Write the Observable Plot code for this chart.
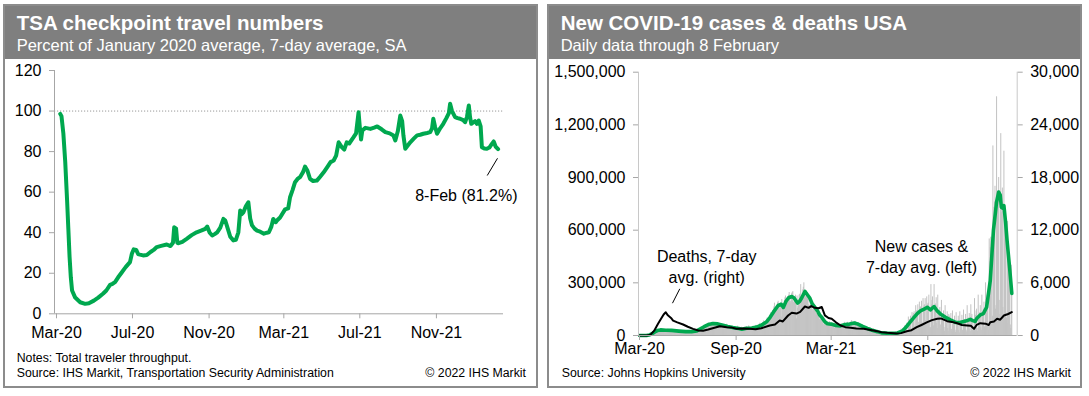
<!DOCTYPE html>
<html><head><meta charset="utf-8">
<script src="https://cdn.jsdelivr.net/npm/d3@7"></script>
<script src="https://cdn.jsdelivr.net/npm/@observablehq/plot@0.6"></script>
<style>
body{margin:0;width:1089px;height:396px;position:relative;background:#fff;font-family:"Liberation Sans",Arial,sans-serif;overflow:hidden}
.panel{position:absolute;top:4px;width:535px;height:384px;border:2px solid #8c8c8c;box-sizing:border-box}
.hdr{position:absolute;left:0;top:0;right:0;height:53px;background:#7f7f7f}
.title{position:absolute;left:11.7px;top:7.3px;font-size:20.5px;font-weight:bold;color:#fff;line-height:20.5px;white-space:nowrap}
.sub{position:absolute;left:11.7px;top:30.5px;font-size:16.5px;color:#fff;line-height:16.5px;white-space:nowrap}
.foot{position:absolute;font-size:12.3px;line-height:14px;color:#000;white-space:nowrap}
.chart{position:absolute}
</style></head>
<body>
<div class="panel" style="left:3px"><div class="hdr"><div class="title">TSA checkpoint travel numbers</div><div class="sub">Percent of January 2020 average, 7-day average, SA</div></div></div>
<div class="panel" style="left:547px"><div class="hdr"><div class="title">New COVID-19 cases &amp; deaths USA</div><div class="sub">Daily data through 8 February</div></div></div>
<div id="left" class="chart" style="left:0;top:60px"></div>
<div id="right" class="chart" style="left:545px;top:60px"></div>
<div class="foot" style="left:16.7px;top:350.5px">Notes: Total traveler throughput.</div>
<div class="foot" style="left:16.7px;top:365.5px">Source: IHS Markit, Transportation Security Administration</div>
<div class="foot" style="right:563px;top:365.5px">© 2022 IHS Markit</div>
<div class="foot" style="left:561.7px;top:365.5px">Source: Johns Hopkins University</div>
<div class="foot" style="right:18px;top:365.5px">© 2022 IHS Markit</div>
<script>
// ---------- LEFT: TSA checkpoint travel numbers (% of Jan 2020 avg, 7-day avg, SA)
const tsaSeries = [
["2020-03-07",98.6],["2020-03-09",97.5],["2020-03-12",89],["2020-03-15",75],["2020-03-18",56],["2020-03-20",42],
["2020-03-22",28],["2020-03-24",18],["2020-03-26",11.5],["2020-03-31",8],["2020-04-08",5.7],["2020-04-16",4.9],
["2020-04-22",5.2],["2020-04-30",6.5],["2020-05-07",8],["2020-05-15",10],["2020-05-20",11.5],["2020-05-26",14.3],
["2020-05-30",14.8],["2020-06-03",15.6],["2020-06-08",18],["2020-06-14",20.5],["2020-06-20",23],["2020-06-27",25.5],
["2020-06-30",29.6],["2020-07-03",31.8],["2020-07-07",31.5],["2020-07-10",29.5],["2020-07-13",29.2],["2020-07-18",28.8],
["2020-07-24",29],["2020-07-30",30.5],["2020-08-04",31.5],["2020-08-09",32.9],["2020-08-16",33.5],["2020-08-25",34.2],
["2020-08-31",33.4],["2020-09-04",35],["2020-09-06",42.7],["2020-09-09",42],["2020-09-11",35],["2020-09-13",34.8],
["2020-09-19",35.5],["2020-09-26",37],["2020-10-04",38.8],["2020-10-12",40.2],["2020-10-19",41],["2020-10-26",41.9],
["2020-10-29",43],["2020-11-02",40],["2020-11-06",38.6],["2020-11-10",39.3],["2020-11-14",40.2],["2020-11-19",42.5],
["2020-11-24",46.8],["2020-11-27",46],["2020-12-01",42],["2020-12-05",38],["2020-12-10",36.2],["2020-12-14",36.5],
["2020-12-18",40.2],["2020-12-21",51],["2020-12-23",49],["2020-12-26",50],["2020-12-30",53],["2021-01-03",55],
["2021-01-06",47],["2021-01-09",43.6],["2021-01-13",42],["2021-01-17",41],["2021-01-22",40.5],["2021-01-28",39.5],
["2021-02-02",40],["2021-02-05",40.2],["2021-02-09",43],["2021-02-12",46.8],["2021-02-16",45.2],["2021-02-18",46],
["2021-02-23",47.5],["2021-03-03",51.5],["2021-03-08",52],["2021-03-11",57.5],["2021-03-15",61],["2021-03-19",64.9],
["2021-03-23",66.5],["2021-03-27",67.4],["2021-04-01",70],["2021-04-04",72.6],["2021-04-08",70.5],["2021-04-12",66.6],
["2021-04-17",65.5],["2021-04-23",65.7],["2021-04-28",67.5],["2021-05-04",69.8],["2021-05-10",72.5],["2021-05-15",74.8],
["2021-05-20",75.6],["2021-05-24",78],["2021-05-28",84.6],["2021-06-02",82.2],["2021-06-06",81],["2021-06-10",84.6],
["2021-06-14",84],["2021-06-21",87.1],["2021-06-25",89],["2021-06-29",99.4],["2021-07-01",92],["2021-07-03",86],
["2021-07-05",90.4],["2021-07-10",91.7],["2021-07-18",91.2],["2021-07-24",91.8],["2021-07-29",92.4],["2021-08-05",91],
["2021-08-11",89.6],["2021-08-18",89],["2021-08-24",87.9],["2021-08-27",85.5],["2021-08-31",90],["2021-09-04",97.8],
["2021-09-07",95],["2021-09-09",88],["2021-09-12",81.4],["2021-09-16",83],["2021-09-20",84.6],["2021-09-26",86.5],
["2021-10-01",88],["2021-10-06",88.3],["2021-10-11",88.8],["2021-10-17",89.2],["2021-10-22",89.6],["2021-10-25",91.5],
["2021-10-27",96.2],["2021-10-30",92],["2021-11-02",88.8],["2021-11-07",91.5],["2021-11-12",93.7],["2021-11-17",96.5],
["2021-11-21",99],["2021-11-23",103.6],["2021-11-26",100],["2021-12-01",97],["2021-12-05",96.5],["2021-12-09",96.2],
["2021-12-14",95.5],["2021-12-17",94.5],["2021-12-20",97],["2021-12-23",102.7],["2021-12-25",97],["2021-12-27",93.7],
["2022-01-02",95],["2022-01-05",93.7],["2022-01-08",95.3],["2022-01-11",92.5],["2022-01-13",82.2],["2022-01-17",81.5],
["2022-01-21",81.4],["2022-01-25",82],["2022-01-29",83.8],["2022-02-01",85],["2022-02-04",82.5],["2022-02-08",81.2]
];
const tsaYTicks = [0,20,40,60,80,100,120];
const tsaXTicks = ["2020-03-01","2020-07-01","2020-11-01","2021-03-01","2021-07-01","2021-11-01"];
const tsaReference = [100];
const tsaNote = [{date:"2021-12-19", value:58.3}];
const tsaLeader = [{d1:"2022-01-21T14:00Z", v1:68.2, d2:"2022-02-07T02:00Z", v2:76.7}];

// ---------- RIGHT: COVID-19 cases (thousands, daily from 1 Mar 2020) and deaths
const dailyStart = "2020-03-01";
const dailyCasesK = [
0,0,0,0,0.1,0.1,0.1,
0.1,0.2,0.2,0.3,0.4,0.6,0.7,
0.8,1.2,1.6,2.6,4.5,5.5,7,
8,10,10,12,17,19,19,
19,21,26,26,29,32,34,
26,29,30,31,32,34,30,
27,25,26,30,30,33,30,
27,26,27,28,34,36,33,
26,23,25,27,29,33,29,
25,23,23,25,28,28,26,
20,18,22,21,27,25,24,
19,21,20,23,25,24,22,
19,17,19,19,22,24,24,
20,19,20,20,22,24,22,
18,17,19,21,23,25,25,
19,19,23,26,28,32,32,
26,31,35,37,39,45,43,
40,40,44,51,56,55,44,
44,50,60,62,61,70,62,
59,60,63,67,75,73,64,
62,61,64,70,72,74,66,
55,57,63,72,68,69,58,
47,47,54,53,58,63,55,
47,49,53,54,52,64,53,
41,37,45,46,49,49,45,
35,37,38,44,45,48,44,
33,32,40,40,46,53,42,
31,23,30,34,37,47,40,
33,34,38,40,45,49,42,
37,50,39,41,45,55,47,
35,34,42,40,47,52,48,
36,37,43,49,56,58,54,
45,41,50,59,64,70,56,
48,58,60,63,74,83,78,
60,66,74,79,90,99,82,
75,84,93,103,120,130,125,
105,118,138,143,163,184,160,
135,158,161,170,187,195,170,
145,172,175,185,105,205,150,
140,160,180,200,215,225,213,
175,190,210,220,230,245,215,
185,195,205,240,245,250,190,
185,200,195,230,195,95,225,
155,165,200,230,235,150,290,
210,220,240,260,275,300,255,
210,220,230,235,240,245,210,
175,145,170,190,195,195,175,
140,150,150,160,165,170,145,
115,125,120,120,125,135,110,
90,90,95,100,110,100,85,
65,55,65,70,75,80,65,
55,55,70,70,78,78,60,
50,55,58,65,68,67,55,
40,45,55,60,60,60,55,
38,50,53,58,62,64,55,
45,52,55,60,66,75,60,
45,60,65,70,75,70,60,
35,60,70,72,80,85,75,
50,70,70,75,80,80,65,
45,65,62,70,70,68,58,
35,50,55,57,60,58,48,
30,45,45,50,52,52,42,
25,35,35,40,45,45,38,
20,25,30,33,35,37,30,
15,20,25,25,28,30,20,
10,8,17,20,18,20,15,
8,15,15,17,16,20,12,
7,13,13,14,16,15,10,
6,11,13,14,13,16,10,
5,12,14,15,18,20,10,
4,8,23,22,23,28,12,
8,36,30,30,34,40,15,
12,55,45,55,58,70,25,
20,105,75,90,90,110,40,
25,130,110,115,125,135,50,
40,170,130,140,140,175,75,
50,190,150,160,165,195,75,
55,210,160,170,175,210,85,
60,220,170,180,185,230,80,
40,45,290,175,200,220,85,
55,290,165,175,180,215,70,
40,230,130,125,130,160,60,
35,200,110,115,115,140,45,
25,170,100,100,105,135,40,
25,120,110,90,90,125,35,
20,140,75,80,85,110,30,
18,130,75,80,80,110,30,
15,135,75,85,85,115,30,
20,145,80,90,90,120,30,
20,170,85,95,100,125,35,
22,175,105,120,30,90,30,
15,210,90,115,140,150,40,
25,230,120,125,130,170,45,
30,230,130,140,150,190,50,
40,300,190,200,230,180,30,
60,550,420,500,560,440,65,
110,1080,590,730,760,850,150,
170,1360,700,790,800,900,200,
120,720,1150,700,760,840,160,
100,1050,650,620,580,600,100,
70,650,420,380,350,380,60,
40,400,240
];
const casesAvgK = [
["2020-03-01",0],["2020-03-14",0.4],["2020-03-20",3],["2020-03-25",10],["2020-03-30",20],["2020-04-04",28],
["2020-04-10",32],["2020-04-20",30],["2020-05-01",29],["2020-05-15",25],["2020-05-28",22],["2020-06-08",22],
["2020-06-18",26],["2020-06-25",38],["2020-07-02",50],["2020-07-10",62],["2020-07-19",68],["2020-07-28",66],
["2020-08-07",58],["2020-08-16",51],["2020-08-26",45],["2020-09-06",40],["2020-09-12",36],["2020-09-21",41],
["2020-10-01",43],["2020-10-10",48],["2020-10-20",60],["2020-10-29",78],["2020-11-05",105],["2020-11-11",133],
["2020-11-20",171],["2020-11-26",178],["2020-11-30",160],["2020-12-05",195],["2020-12-10",215],["2020-12-16",222],
["2020-12-20",215],["2020-12-27",185],["2020-12-31",195],["2021-01-04",215],["2021-01-10",251],["2021-01-14",235],
["2021-01-19",215],["2021-01-24",180],["2021-01-29",160],["2021-02-03",140],["2021-02-07",118],["2021-02-12",100],
["2021-02-17",78],["2021-02-22",67],["2021-03-01",65],["2021-03-10",57],["2021-03-19",55],["2021-03-28",62],
["2021-04-05",65],["2021-04-14",71],["2021-04-22",64],["2021-04-30",52],["2021-05-09",40],["2021-05-18",30],
["2021-05-28",22],["2021-06-05",15],["2021-06-16",13],["2021-06-27",12],["2021-07-05",14],["2021-07-14",24],
["2021-07-21",45],["2021-07-27",68],["2021-08-05",100],["2021-08-12",125],["2021-08-18",140],["2021-08-25",150],
["2021-08-31",161],["2021-09-06",146],["2021-09-13",165],["2021-09-19",140],["2021-09-25",123],["2021-10-04",105],
["2021-10-14",89],["2021-10-24",75],["2021-11-02",74],["2021-11-12",82],["2021-11-21",92],["2021-11-26",85],
["2021-11-30",80],["2021-12-04",100],["2021-12-10",117],["2021-12-16",125],["2021-12-22",161],["2021-12-29",313],
["2022-01-04",598],["2022-01-10",760],["2022-01-14",817],["2022-01-17",800],["2022-01-19",731],["2022-01-22",725],
["2022-01-24",740],["2022-01-27",650],["2022-01-30",541],["2022-02-04",380],["2022-02-08",240]
];
const deathsAvgK = [
["2020-03-01",0],["2020-03-15",0.01],["2020-03-22",0.1],["2020-03-29",0.55],["2020-04-05",1.3],["2020-04-11",1.9],
["2020-04-16",2.4],["2020-04-20",2.65],["2020-04-24",2.3],["2020-04-30",2.0],["2020-05-04",1.7],["2020-05-12",1.5],
["2020-05-23",1.25],["2020-06-01",1.0],["2020-06-11",0.76],["2020-06-21",0.57],["2020-06-30",0.55],["2020-07-10",0.68],
["2020-07-20",0.85],["2020-08-01",1.06],["2020-08-14",0.95],["2020-08-24",0.9],["2020-09-02",0.76],["2020-09-14",0.8],
["2020-09-27",0.76],["2020-10-08",0.72],["2020-10-19",0.83],["2020-11-04",1.14],["2020-11-14",1.25],["2020-11-23",1.7],
["2020-11-29",1.6],["2020-12-09",2.28],["2020-12-16",2.6],["2020-12-25",2.5],["2021-01-01",2.7],["2021-01-10",3.3],
["2021-01-17",3.15],["2021-01-22",3.35],["2021-01-29",3.15],["2021-02-05",3.1],["2021-02-11",3.25],["2021-02-17",2.3],
["2021-02-24",2.0],["2021-03-02",1.9],["2021-03-10",1.5],["2021-03-19",1.14],["2021-03-28",0.95],["2021-04-07",0.88],
["2021-04-18",0.8],["2021-05-02",0.76],["2021-05-15",0.62],["2021-05-28",0.49],["2021-06-05",0.38],["2021-06-16",0.31],
["2021-07-04",0.22],["2021-07-12",0.27],["2021-07-23",0.49],["2021-08-01",0.6],["2021-08-11",0.95],["2021-08-20",1.2],
["2021-08-31",1.52],["2021-09-09",1.75],["2021-09-19",1.9],["2021-09-26",1.95],["2021-10-08",1.63],["2021-10-17",1.55],
["2021-10-27",1.4],["2021-11-05",1.2],["2021-11-15",1.14],["2021-11-22",1.1],["2021-11-28",0.76],["2021-12-03",1.2],
["2021-12-10",1.4],["2021-12-20",1.35],["2021-12-26",1.2],["2021-12-29",1.5],["2022-01-05",1.6],["2022-01-11",1.9],
["2022-01-17",1.8],["2022-01-24",2.28],["2022-02-01",2.45],["2022-02-08",2.66]
];
const covidLeftTicksK = [0,300,600,900,1200,1500];
const covidRightMaxK = 30;
const covidXTicks = ["2020-03-01","2020-09-01","2021-03-01","2021-09-01"];
const covidNotes = [
  {date:"2020-07-07", valueK:396, text:"Deaths, 7-day\navg. (right)"},
  {date:"2021-08-20", valueK:456, text:"New cases &\n7-day avg. (left)"}
];
const covidLeader = [{d1:"2020-05-02T19:00Z", v1:184, d2:"2020-05-16T17:00Z", v2:266}];

const GREEN = "#00a84f", AXIS = "#a6a6a6";
const FONT = '"Liberation Sans", Arial, sans-serif';
const style = {fontSize:"16px", fontFamily:FONT, color:"#000", background:"transparent", overflow:"visible"};
const fmtMon = d3.utcFormat("%b-%y");

// ---- left chart
const tsa = tsaSeries.map(([d,v]) => ({date:new Date(d), value:v}));
const last = tsa[tsa.length-1];
const xDomL = [new Date("2020-02-26T19:00Z"), new Date("2022-02-16T17:00Z")];
const leftPlot = Plot.plot({
  width:540, height:290, marginLeft:54, marginRight:37, marginTop:10, marginBottom:36.7,
  style,
  x:{type:"utc", domain:xDomL},
  y:{domain:[0,120]},
  marks:[
    Plot.ruleY(tsaReference, {stroke:"#9a9a9a", strokeDasharray:"1.2,1.8"}),
    Plot.ruleY([0], {stroke:AXIS}),
    Plot.ruleX([xDomL[0]], {stroke:AXIS}),
    Plot.axisY(tsaYTicks, {tickSize:5, tickPadding:8, stroke:AXIS, fill:"#000", label:null}),
    Plot.axisX(tsaXTicks.map(d=>new Date(d)), {tickSize:5, tickPadding:7.4, tickFormat:fmtMon, stroke:AXIS, fill:"#000", label:null}),
    Plot.line(tsa, {x:"date", y:"value", stroke:GREEN, strokeWidth:4, strokeLinejoin:"round", strokeLinecap:"round"}),
    Plot.link(tsaLeader, {x1:d=>new Date(d.d1), y1:"v1", x2:d=>new Date(d.d2), y2:"v2", stroke:"#000", strokeWidth:1}),
    Plot.text(tsaNote, {x:d=>new Date(d.date), y:"value",
      text:() => `${d3.utcFormat("%-d-%b")(last.date)} (${last.value.toFixed(1)}%)`, fill:"#000", fontSize:16})
  ]
});
document.getElementById("left").appendChild(leftPlot);

// ---- right chart
const t0 = new Date(dailyStart + "T00:00Z");
const daily = dailyCasesK.map((v,i) => ({date:d3.utcDay.offset(t0, i), v}));
const avg = casesAvgK.map(([d,v]) => ({date:new Date(d), v}));
const deaths = deathsAvgK.map(([d,v]) => ({date:new Date(d), v}));
const ratio = covidLeftTicksK[covidLeftTicksK.length-1] / covidRightMaxK; // left units per right unit
const xDomR = [new Date("2020-02-28T02:00Z"), new Date("2022-02-18T07:00Z")];
const rightPlot = Plot.plot({
  width:540, height:300, marginLeft:93, marginRight:68.3, marginTop:11.7, marginBottom:25,
  style,
  x:{type:"utc", domain:xDomR},
  y:{domain:[0,1500]},
  marks:[
    Plot.ruleX(daily, {x:"date", y1:0, y2:"v", stroke:"#c3c3c3", strokeWidth:1}),
    Plot.line(avg, {x:"date", y:"v", stroke:GREEN, strokeWidth:3.6, strokeLinejoin:"round"}),
    Plot.line(deaths, {x:"date", y:d=>d.v*ratio, stroke:"#000", strokeWidth:2, strokeLinejoin:"round"}),
    Plot.ruleY([0], {stroke:AXIS}),
    Plot.ruleX(xDomR, {stroke:"#c8c8c8"}),
    Plot.axisY(covidLeftTicksK, {anchor:"left", tickSize:5, tickPadding:8, tickFormat:d=>d3.format(",")(d*1000), stroke:AXIS, fill:"#000", label:null}),
    Plot.axisY(covidLeftTicksK, {anchor:"right", tickSize:5, tickPadding:8, tickFormat:d=>d3.format(",")(Math.round(d/ratio*1000)), stroke:AXIS, fill:"#000", label:null}),
    Plot.axisX(covidXTicks.map(d=>new Date(d)), {tickSize:5, tickPadding:2.5, tickFormat:fmtMon, stroke:AXIS, fill:"#000", label:null}),
    Plot.link(covidLeader, {x1:d=>new Date(d.d1), y1:"v1", x2:d=>new Date(d.d2), y2:"v2", stroke:"#000", strokeWidth:1}),
    Plot.text(covidNotes, {x:d=>new Date(d.date), y:"valueK", text:"text", lineHeight:1.3, fill:"#000", fontSize:16})
  ]
});
document.getElementById("right").appendChild(rightPlot);
</script>
</body></html>
